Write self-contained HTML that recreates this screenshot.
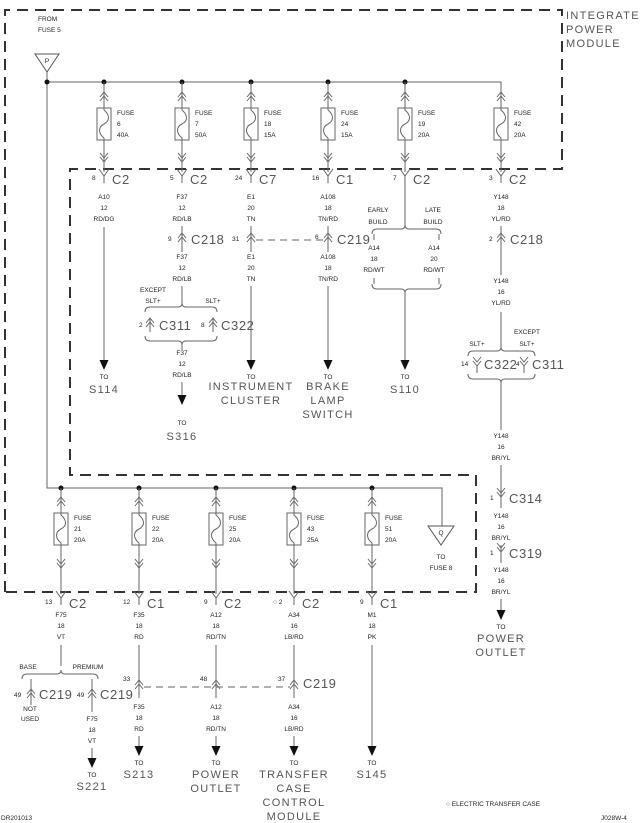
<!DOCTYPE html>
<html><head><meta charset="utf-8"><style>
html,body{margin:0;padding:0;background:#fff;}
svg{display:block;}
.s{font-family:"Liberation Sans",sans-serif;font-size:6.5px;fill:#222;text-anchor:middle;}
.l{font-family:"Liberation Sans",sans-serif;font-size:6.5px;fill:#222;}
.c{font-family:"Liberation Sans",sans-serif;font-size:13px;fill:#555;letter-spacing:0.6px;}
.b{font-family:"Liberation Sans",sans-serif;font-size:11px;fill:#555;letter-spacing:1.3px;text-anchor:middle;}
.w{stroke:#666;stroke-width:1;fill:none;}
.d{stroke:#333;stroke-width:2;fill:none;stroke-dasharray:11,7;}
.dd{stroke:#666;stroke-width:1;fill:none;stroke-dasharray:7,5;}
</style></head><body>
<svg width="640" height="823" viewBox="0 0 640 823" xmlns="http://www.w3.org/2000/svg">
<defs>
<path id="cu" class="w" d="M-4,5 L0,0 L4,5 M-4,9 L0,4 L4,9"/>
<path id="cd" class="w" d="M-4,-5 L0,0 L4,-5 M-4,-9 L0,-4 L4,-9"/>
<g id="fuse"><rect x="-7" y="0" width="14" height="32" fill="#fff" stroke="#666"/><path class="w" d="M0,0 V2 C6,7 6,13 0,16 C-6,19 -6,25 0,30 V32"/></g>
<path id="y" class="w" d="M-5,-7 L0,0 L5,-7 M0,0 V7"/>
<polygon id="ar" points="-4.5,0 4.5,0 0,10" fill="#111"/>
<g id="fc"><path class="w" d="M-4,5 L0,0 L4,5 M-4,9 L0,4 L4,9 M0,0 V14"/></g>
<g id="mc"><path class="w" d="M-4,-5 L0,0 L4,-5 M-4,-9 L0,-4 L4,-9 M0,0 V7"/></g>
</defs>

<path class="d" d="M5,592 V10 H562 V169 H70 V475 H476 V592 H5"/>
<text class="b" x="566" y="19" style="text-anchor:start">INTEGRATED</text>
<text class="b" x="566" y="33" style="text-anchor:start">POWER</text>
<text class="b" x="566" y="47" style="text-anchor:start">MODULE</text>

<text class="l" x="38" y="21">FROM</text>
<text class="l" x="38" y="32">FUSE 5</text>
<polygon points="35,54 59,54 47,72" fill="#fff" stroke="#555"/>
<text class="s" x="47" y="63">P</text>

<path class="w" d="M47,72 V488 H442 V526 M47,82 H501 V172"/>
<g fill="#111"><circle cx="47" cy="82" r="2.5"/><circle cx="104" cy="82" r="2.5"/><circle cx="182" cy="82" r="2.5"/><circle cx="251" cy="82" r="2.5"/><circle cx="328" cy="82" r="2.5"/><circle cx="405" cy="82" r="2.5"/>
<circle cx="61" cy="488" r="2.5"/><circle cx="139" cy="488" r="2.5"/><circle cx="216" cy="488" r="2.5"/><circle cx="294" cy="488" r="2.5"/><circle cx="372" cy="488" r="2.5"/></g>

<g>
<path class="w" d="M104,82 V172 M182,82 V172 M251,82 V172 M328,82 V172 M405,82 V172"/>
<use href="#cu" x="104" y="92"/><use href="#fuse" x="104" y="108"/><use href="#cd" x="104" y="162"/><use href="#y" x="104" y="176"/>
<use href="#cu" x="182" y="92"/><use href="#fuse" x="182" y="108"/><use href="#cd" x="182" y="162"/><use href="#y" x="182" y="176"/>
<use href="#cu" x="251" y="92"/><use href="#fuse" x="251" y="108"/><use href="#cd" x="251" y="162"/><use href="#y" x="251" y="176"/>
<use href="#cu" x="328" y="92"/><use href="#fuse" x="328" y="108"/><use href="#cd" x="328" y="162"/><use href="#y" x="328" y="176"/>
<use href="#cu" x="405" y="92"/><use href="#fuse" x="405" y="108"/><use href="#cd" x="405" y="162"/><use href="#y" x="405" y="176"/>
<use href="#cu" x="501" y="92"/><use href="#fuse" x="501" y="108"/><use href="#cd" x="501" y="162"/><use href="#y" x="501" y="176"/>
</g>
<g class="l">
<text x="117" y="115">FUSE</text><text x="117" y="126">6</text><text x="117" y="137">40A</text>
<text x="195" y="115">FUSE</text><text x="195" y="126">7</text><text x="195" y="137">50A</text>
<text x="264" y="115">FUSE</text><text x="264" y="126">18</text><text x="264" y="137">15A</text>
<text x="341" y="115">FUSE</text><text x="341" y="126">24</text><text x="341" y="137">15A</text>
<text x="418" y="115">FUSE</text><text x="418" y="126">19</text><text x="418" y="137">20A</text>
<text x="514" y="115">FUSE</text><text x="514" y="126">42</text><text x="514" y="137">20A</text>
</g>
<text class="l" x="92" y="180">8</text><text class="c" x="112" y="184">C2</text>
<text class="l" x="170" y="180">5</text><text class="c" x="190" y="184">C2</text>
<text class="l" x="235" y="180">24</text><text class="c" x="259" y="184">C7</text>
<text class="l" x="312" y="180">16</text><text class="c" x="336" y="184">C1</text>
<text class="l" x="393" y="180">7</text><text class="c" x="413" y="184">C2</text>
<text class="l" x="489" y="180">3</text><text class="c" x="509" y="184">C2</text>

<text class="s" x="104" y="199">A10</text><text class="s" x="104" y="210">12</text><text class="s" x="104" y="221">RD/DG</text>
<path class="w" d="M104,227 V360"/><use href="#ar" x="104" y="360"/>
<text class="s" x="104" y="379">TO</text><text class="b" x="104" y="393">S114</text>

<text class="s" x="182" y="199">F37</text><text class="s" x="182" y="210">12</text><text class="s" x="182" y="221">RD/LB</text>
<path class="w" d="M182,226 V252"/><use href="#cu" x="182" y="233"/>
<text class="l" x="168" y="241">9</text><text class="c" x="191" y="244">C218</text>
<text class="s" x="182" y="259">F37</text><text class="s" x="182" y="270">12</text><text class="s" x="182" y="281">RD/LB</text>
<path class="w" d="M182,286 V304"/>
<text class="s" x="153" y="292">EXCEPT</text><text class="s" x="153" y="303">SLT+</text><text class="s" x="213" y="303">SLT+</text>
<path class="w" d="M145,312 Q145,307 150,307 H178 Q182,307 182,303 Q182,307 186,307 H212 Q217,307 217,312"/>
<use href="#fc" x="150" y="318"/><use href="#fc" x="213" y="318"/>
<text class="l" x="139" y="327">2</text><text class="c" x="159" y="330">C311</text>
<text class="l" x="201" y="327">8</text><text class="c" x="221" y="330">C322</text>
<path class="w" d="M145,336 Q145,341 150,341 H178 Q182,341 182,345 Q182,341 186,341 H212 Q217,341 217,336"/>
<path class="w" d="M182,345 V350"/>
<text class="s" x="182" y="355">F37</text><text class="s" x="182" y="366">12</text><text class="s" x="182" y="377">RD/LB</text>
<path class="w" d="M182,382 V395"/><use href="#ar" x="182" y="395"/>
<text class="s" x="182" y="425">TO</text><text class="b" x="182" y="440">S316</text>

<text class="s" x="251" y="199">E1</text><text class="s" x="251" y="210">20</text><text class="s" x="251" y="221">TN</text>
<path class="w" d="M251,226 V252"/><use href="#cu" x="251" y="233"/>
<text class="l" x="232" y="241">31</text>
<path class="dd" d="M256,240 H324"/>
<text class="s" x="251" y="259">E1</text><text class="s" x="251" y="270">20</text><text class="s" x="251" y="281">TN</text>
<path class="w" d="M251,286 V360"/><use href="#ar" x="251" y="360"/>
<text class="s" x="251" y="379">TO</text><text class="b" x="251" y="390">INSTRUMENT</text><text class="b" x="251" y="404">CLUSTER</text>

<text class="s" x="328" y="199">A108</text><text class="s" x="328" y="210">18</text><text class="s" x="328" y="221">TN/RD</text>
<path class="w" d="M328,226 V252"/><use href="#cu" x="328" y="233"/>
<text class="l" x="315" y="239">6</text><text class="c" x="337" y="244">C219</text>
<text class="s" x="328" y="259">A108</text><text class="s" x="328" y="270">18</text><text class="s" x="328" y="281">TN/RD</text>
<path class="w" d="M328,286 V360"/><use href="#ar" x="328" y="360"/>
<text class="s" x="328" y="379">TO</text><text class="b" x="328" y="390">BRAKE</text><text class="b" x="328" y="404">LAMP</text><text class="b" x="328" y="418">SWITCH</text>

<path class="w" d="M405,183 V225"/>
<text class="s" x="378" y="212">EARLY</text><text class="s" x="378" y="224">BUILD</text>
<text class="s" x="433" y="212">LATE</text><text class="s" x="433" y="224">BUILD</text>
<path class="w" d="M372,234 Q372,229 377,229 H401 Q405,229 405,225 Q405,229 409,229 H436 Q441,229 441,234"/>
<path class="w" d="M374,234 V240 M439,234 V240"/>
<text class="s" x="374" y="250">A14</text><text class="s" x="374" y="261">18</text><text class="s" x="374" y="272">RD/WT</text>
<text class="s" x="434" y="250">A14</text><text class="s" x="434" y="261">20</text><text class="s" x="434" y="272">RD/WT</text>
<path class="w" d="M374,278 V284 M439,278 V284"/>
<path class="w" d="M372,284 Q372,289 377,289 H401 Q405,289 405,293 Q405,289 409,289 H436 Q441,289 441,284"/>
<path class="w" d="M405,293 V360"/><use href="#ar" x="405" y="360"/>
<text class="s" x="405" y="379">TO</text><text class="b" x="405" y="393">S110</text>

<text class="s" x="501" y="199">Y148</text><text class="s" x="501" y="210">18</text><text class="s" x="501" y="221">YL/RD</text>
<path class="w" d="M501,226 V275"/><use href="#cu" x="501" y="233"/>
<text class="l" x="489" y="241">2</text><text class="c" x="510" y="244">C218</text>
<text class="s" x="501" y="283">Y148</text><text class="s" x="501" y="294">16</text><text class="s" x="501" y="305">YL/RD</text>
<path class="w" d="M501,312 V347"/>
<text class="s" x="527" y="334">EXCEPT</text><text class="s" x="527" y="346">SLT+</text><text class="s" x="477" y="346">SLT+</text>
<path class="w" d="M468,356 Q468,351 473,351 H497 Q501,351 501,347 Q501,351 505,351 H530 Q535,351 535,356"/>
<use href="#mc" x="477" y="366"/><use href="#mc" x="524" y="366"/>
<text class="l" x="461" y="366">14</text><text class="c" x="484" y="369">C322</text>
<text class="l" x="516" y="366">4</text><text class="c" x="532" y="369">C311</text>
<path class="w" d="M468,374 Q468,379 473,379 H497 Q501,379 501,383 Q501,379 505,379 H530 Q535,379 535,374"/>
<path class="w" d="M501,383 V430"/>
<text class="s" x="501" y="438">Y148</text><text class="s" x="501" y="449">16</text><text class="s" x="501" y="460">BR/YL</text>
<path class="w" d="M501,465 V508"/><use href="#mc" x="501" y="497"/>
<text class="l" x="490" y="500">1</text><text class="c" x="509" y="503">C314</text>
<text class="s" x="501" y="518">Y148</text><text class="s" x="501" y="529">16</text><text class="s" x="501" y="540">BR/YL</text>
<path class="w" d="M501,545 V563"/><use href="#mc" x="501" y="552"/>
<text class="l" x="490" y="555">1</text><text class="c" x="509" y="558">C319</text>
<text class="s" x="501" y="572">Y148</text><text class="s" x="501" y="583">16</text><text class="s" x="501" y="594">BR/YL</text>
<path class="w" d="M501,599 V610"/><use href="#ar" x="501" y="610"/>
<text class="s" x="501" y="629">TO</text><text class="b" x="501" y="642">POWER</text><text class="b" x="501" y="656">OUTLET</text>

<polygon points="428,526 454,526 441,545" fill="#fff" stroke="#555"/>
<text class="s" x="441" y="535">Q</text>
<text class="s" x="441" y="559">TO</text><text class="s" x="441" y="570">FUSE 8</text>

<path class="w" d="M61,488 V594 M139,488 V594 M216,488 V594 M294,488 V594 M372,488 V594"/>
<use href="#cu" x="61" y="497"/><use href="#fuse" x="61" y="513"/><use href="#cd" x="61" y="568"/><use href="#y" x="61" y="598"/>
<use href="#cu" x="139" y="497"/><use href="#fuse" x="139" y="513"/><use href="#cd" x="139" y="568"/><use href="#y" x="139" y="598"/>
<use href="#cu" x="216" y="497"/><use href="#fuse" x="216" y="513"/><use href="#cd" x="216" y="568"/><use href="#y" x="216" y="598"/>
<use href="#cu" x="294" y="497"/><use href="#fuse" x="294" y="513"/><use href="#cd" x="294" y="568"/><use href="#y" x="294" y="598"/>
<use href="#cu" x="372" y="497"/><use href="#fuse" x="372" y="513"/><use href="#cd" x="372" y="568"/><use href="#y" x="372" y="598"/>
<g class="l">
<text x="74" y="520">FUSE</text><text x="74" y="531">21</text><text x="74" y="542">20A</text>
<text x="152" y="520">FUSE</text><text x="152" y="531">22</text><text x="152" y="542">20A</text>
<text x="229" y="520">FUSE</text><text x="229" y="531">25</text><text x="229" y="542">20A</text>
<text x="307" y="520">FUSE</text><text x="307" y="531">43</text><text x="307" y="542">25A</text>
<text x="385" y="520">FUSE</text><text x="385" y="531">51</text><text x="385" y="542">20A</text>
</g>
<text class="l" x="45" y="604">13</text><text class="c" x="69" y="608">C2</text>
<text class="l" x="123" y="604">12</text><text class="c" x="147" y="608">C1</text>
<text class="l" x="204" y="604">9</text><text class="c" x="224" y="608">C2</text>
<text class="l" x="273" y="604">○ 2</text><text class="c" x="302" y="608">C2</text>
<text class="l" x="360" y="604">9</text><text class="c" x="380" y="608">C1</text>

<text class="s" x="61" y="617">F75</text><text class="s" x="61" y="628">18</text><text class="s" x="61" y="639">VT</text>
<text class="s" x="139" y="617">F35</text><text class="s" x="139" y="628">18</text><text class="s" x="139" y="639">RD</text>
<text class="s" x="216" y="617">A12</text><text class="s" x="216" y="628">18</text><text class="s" x="216" y="639">RD/TN</text>
<text class="s" x="294" y="617">A34</text><text class="s" x="294" y="628">16</text><text class="s" x="294" y="639">LB/RD</text>
<text class="s" x="372" y="617">M1</text><text class="s" x="372" y="628">18</text><text class="s" x="372" y="639">PK</text>

<path class="w" d="M61,645 V666"/>
<text class="s" x="28" y="669">BASE</text><text class="s" x="88" y="669">PREMIUM</text>
<path class="w" d="M22,679 Q22,674 27,674 H57 Q61,674 61,670 Q61,674 65,674 H93 Q98,674 98,679"/>
<path class="w" d="M31,679 V705 M92,679 V712"/>
<use href="#cu" x="31" y="689"/><use href="#cu" x="92" y="689"/>
<text class="l" x="14" y="697">49</text><text class="c" x="39" y="699">C219</text>
<text class="l" x="77" y="697">49</text><text class="c" x="100" y="699">C219</text>
<text class="s" x="30" y="711">NOT</text><text class="s" x="30" y="721">USED</text>
<text class="s" x="92" y="721">F75</text><text class="s" x="92" y="732">18</text><text class="s" x="92" y="743">VT</text>
<path class="w" d="M92,748 V758"/><use href="#ar" x="92" y="758"/>
<text class="s" x="92" y="777">TO</text><text class="b" x="92" y="790">S221</text>

<path class="w" d="M139,645 V698 M216,645 V698 M294,645 V698 M372,645 V748"/>
<use href="#cu" x="139" y="680"/><use href="#cu" x="216" y="680"/><use href="#cu" x="294" y="680"/>
<path class="dd" d="M144,687 H290"/>
<text class="l" x="123" y="681">33</text><text class="l" x="200" y="681">48</text><text class="l" x="278" y="681">37</text>
<text class="c" x="303" y="688">C219</text>
<text class="s" x="139" y="709">F35</text><text class="s" x="139" y="720">18</text><text class="s" x="139" y="731">RD</text>
<text class="s" x="216" y="709">A12</text><text class="s" x="216" y="720">18</text><text class="s" x="216" y="731">RD/TN</text>
<text class="s" x="294" y="709">A34</text><text class="s" x="294" y="720">16</text><text class="s" x="294" y="731">LB/RD</text>
<path class="w" d="M139,736 V746 M216,736 V746 M294,736 V746"/>
<use href="#ar" x="139" y="746"/><use href="#ar" x="216" y="746"/><use href="#ar" x="294" y="746"/><use href="#ar" x="372" y="746"/>
<text class="s" x="139" y="765">TO</text><text class="b" x="139" y="778">S213</text>
<text class="s" x="216" y="765">TO</text><text class="b" x="216" y="778">POWER</text><text class="b" x="216" y="792">OUTLET</text>
<text class="s" x="294" y="765">TO</text><text class="b" x="294" y="778">TRANSFER</text><text class="b" x="294" y="792">CASE</text><text class="b" x="294" y="806">CONTROL</text><text class="b" x="294" y="820">MODULE</text>
<text class="s" x="372" y="765">TO</text><text class="b" x="372" y="778">S145</text>

<text class="l" x="1" y="820">DR201013</text>
<text class="l" x="446" y="806">○  ELECTRIC TRANSFER CASE</text>
<text class="l" x="601" y="820">J028W-4</text>
</svg>
</body></html>
